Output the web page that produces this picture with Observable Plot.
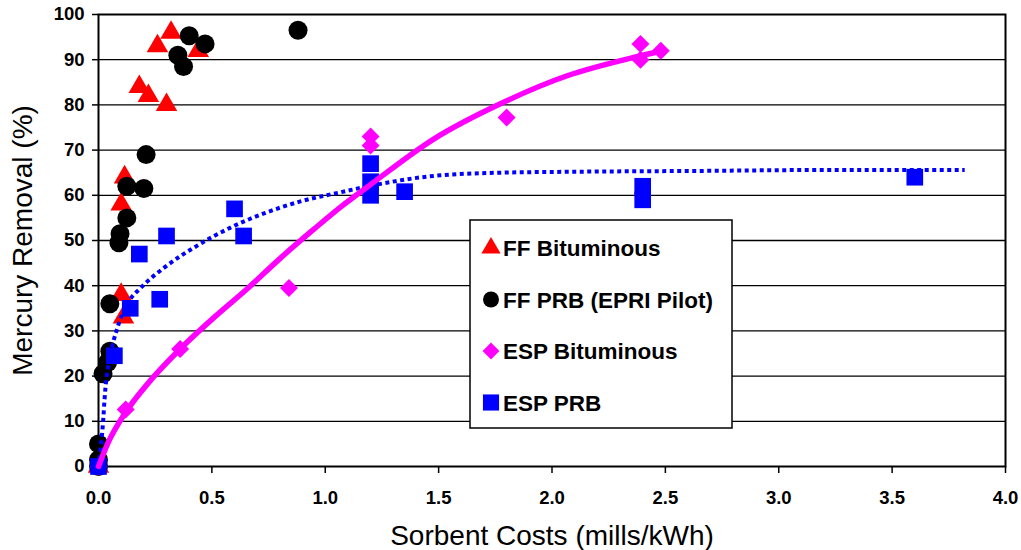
<!DOCTYPE html>
<html><head><meta charset="utf-8">
<script src="https://cdn.jsdelivr.net/npm/d3@7"></script>
<script src="https://cdn.jsdelivr.net/npm/@observablehq/plot@0.6"></script>
<style>body{margin:0;background:#fff;} #chart{width:1021px;height:550px;}</style>
</head><body><div id="chart"></div>
<script>
// FF Bituminous (red triangles)
const ffBitX = [0.0, 0.10, 0.11, 0.10, 0.115, 0.18, 0.22, 0.30, 0.26, 0.32, 0.44];
const ffBitY = [0, 38, 33, 58, 64, 84, 82, 80, 93, 96, 92];
// FF PRB (EPRI Pilot) (black circles)
const ffPrbX = [0.0, 0.0, 0.0, 0.02, 0.04, 0.05, 0.05, 0.09, 0.095, 0.125, 0.125, 0.20, 0.21, 0.35, 0.375, 0.40, 0.47, 0.88];
const ffPrbY = [0, 1.5, 5, 20.5, 23, 25.5, 36, 49.5, 51.5, 55, 62, 61.5, 69, 91, 88.5, 95.3, 93.5, 96.5];
// ESP Bituminous (magenta diamonds)
const espBitX = [0.0, 0.12, 0.36, 0.84, 1.20, 1.20, 1.80, 2.39, 2.39, 2.48];
const espBitY = [0, 12.6, 26, 39.5, 73, 71, 77.2, 93.5, 90, 92];
// ESP PRB (blue squares)
const espPrbX = [0.0, 0.07, 0.14, 0.18, 0.27, 0.30, 0.60, 0.64, 1.20, 1.20, 1.20, 1.35, 2.40, 2.40, 3.60];
const espPrbY = [0, 24.5, 35, 47, 37, 51, 57, 51, 67, 63, 60, 60.8, 62, 59, 64];
// Trend line: ESP Bituminous (solid magenta)
const trendBitX = [0, 0.04, 0.12, 0.22, 0.36, 0.51, 0.66, 0.80, 0.95, 1.07, 1.19, 1.48, 1.77, 2.07, 2.36, 2.49];
const trendBitY = [0, 5, 12, 18.5, 26, 33, 39.5, 46, 52.5, 57.5, 62, 72.5, 80.2, 86.5, 90.5, 92];
// Trend line: ESP PRB (dotted blue)
const trendPrbX = [0, 0.018, 0.03, 0.053, 0.083, 0.127, 0.186, 0.29, 0.44, 0.58, 0.73, 0.88, 1.07, 1.19, 1.48, 1.77, 2.07, 2.66, 3.2, 3.82];
const trendPrbY = [0, 8.5, 17, 24.8, 30.6, 36, 39.5, 44, 49, 52.8, 56, 58.5, 60.7, 62, 64.3, 65, 65.2, 65.4, 65.6, 65.6];

const xTicks = [0, 0.5, 1.0, 1.5, 2.0, 2.5, 3.0, 3.5, 4.0];
const yTicks = [0, 10, 20, 30, 40, 50, 60, 70, 80, 90, 100];
const seriesNames = ["FF Bituminous", "FF PRB (EPRI Pilot)", "ESP Bituminous", "ESP PRB"];
const seriesColors = ["#ff0000", "#000000", "#ff00ff", "#0000ff"];
const seriesSymbols = ["triangle", "circle", "diamond2", "square"];
const xTitle = "Sorbent Costs (mills/kWh)";
const yTitle = "Mercury Removal (%)";

const zip = (xs, ys) => xs.map((x, i) => ({x, y: ys[i]}));
const ffBit = zip(ffBitX, ffBitY);
const ffPrb = zip(ffPrbX, ffPrbY);
const espBit = zip(espBitX, espBitY);
const espPrb = zip(espPrbX, espPrbY);
const trendBit = zip(trendBitX, trendBitY);
const trendPrb = zip(trendPrbX, trendPrbY);

const font = "'Liberation Sans', Arial, sans-serif";
const plot = Plot.plot({
  width: 1021, height: 550,
  marginLeft: 98, marginRight: 16, marginTop: 14, marginBottom: 84,
  style: {fontFamily: font, background: "#fff", color: "#000", overflow: "visible"},
  x: {domain: [0, 4]},
  y: {domain: [0, 100]},
  marks: [
    Plot.gridY(yTicks.slice(1, -1), {stroke: "#000", strokeOpacity: 1, strokeWidth: 1.3}),
    Plot.axisX({ticks: xTicks, tickSize: 7, tickPadding: 17, fontSize: 18.5, fontWeight: "bold", tickFormat: d => d.toFixed(1), label: null, strokeWidth: 1.5}),
    Plot.axisY({ticks: yTicks, tickSize: 6, tickPadding: 8, fontSize: 18.5, fontWeight: "bold", label: null, strokeWidth: 1.5}),
    Plot.frame({stroke: "#000", strokeWidth: 2}),
    Plot.dot(ffBit, {x: "x", y: "y", symbol: "triangle", r: 8, fill: seriesColors[0], stroke: "none"}),
    Plot.dot(ffPrb, {x: "x", y: "y", symbol: "circle", r: 9.5, fill: seriesColors[1], stroke: "none"}),
    Plot.dot(espBit, {x: "x", y: "y", symbol: "diamond2", r: 8.1, fill: seriesColors[2], stroke: "none"}),
    Plot.dot(espPrb, {x: "x", y: "y", symbol: "square", r: 9.4, fill: seriesColors[3], stroke: "none"}),
    Plot.line(trendPrb, {x: "x", y: "y", stroke: seriesColors[3], strokeWidth: 4, strokeDasharray: "4 3.5", strokeLinecap: "butt", curve: "monotone-x"}),
    Plot.line(trendBit, {x: "x", y: "y", stroke: seriesColors[2], strokeWidth: 5.5, curve: "monotone-x"}),
    Plot.text([yTitle], {frameAnchor: "left", textAnchor: "middle", lineAnchor: "middle", text: d => d, rotate: -90, dx: -75, fontSize: 28, fill: "#000"}),
    Plot.text([xTitle], {frameAnchor: "bottom", textAnchor: "middle", lineAnchor: "middle", text: d => d, dy: 70, fontSize: 28, fill: "#000"})
  ]
});
document.getElementById("chart").appendChild(plot);

// Legend box inside the plot area
const svg = d3.select(plot);
const lg = svg.append("g").attr("font-family", font).attr("text-anchor", "start");
lg.append("rect").attr("x", 470).attr("y", 220).attr("width", 262).attr("height", 208)
  .attr("fill", "#fff").attr("stroke", "#000").attr("stroke-width", 1.5);
const symMap = {triangle: d3.symbolTriangle, circle: d3.symbolCircle, diamond2: d3.symbolDiamond2, square: d3.symbolSquare};
const symSize = [160, 200, 180, 260];
seriesNames.forEach((name, i) => {
  const cy = 248 + i * 51.5;
  lg.append("path").attr("d", d3.symbol(symMap[seriesSymbols[i]], symSize[i])())
    .attr("transform", `translate(491,${cy})`).attr("fill", seriesColors[i]);
  lg.append("text").attr("x", 503).attr("y", cy).attr("dy", "0.36em").attr("text-anchor", "start")
    .attr("font-size", 22.5).attr("font-weight", "bold").attr("fill", "#000").text(name);
});
</script>
</body></html>
